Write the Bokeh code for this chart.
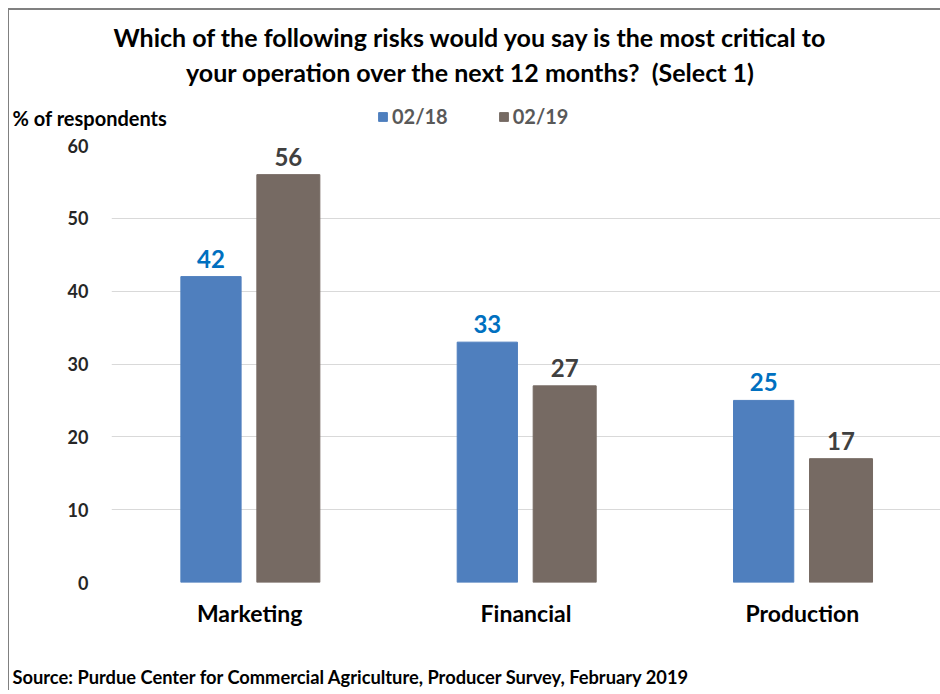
from bokeh.plotting import figure
from bokeh.layouts import column
from bokeh.models import (ColumnDataSource, Range1d, FactorRange, LabelSet, Label,
                          Legend, LegendItem)
from bokeh.core.properties import value
from bokeh.transform import dodge
from bokeh.embed import file_html
from bokeh.resources import INLINE

# ---- data ----
categories = ["Marketing", "Financial", "Production"]
series_names = ["02/18", "02/19"]
values_0218 = [42, 33, 25]
values_0219 = [56, 27, 17]
y_ticks = [0, 10, 20, 30, 40, 50, 60]

title_lines = ["Which of the following risks would you say is the most critical to",
               "your operation over the next 12 months?\u00a0 (Select 1)"]
y_label = "% of respondents"
source_note = "Source: Purdue Center for Commercial Agriculture, Producer Survey, February 2019"

FONT = "Lato"
BLUE = "#4F7FBE"
BROWN = "#766A63"
FRAME_GREY = "#808080"

W = 940
HEAD_H, MAIN_H, FOOT_H = 135, 505, 50
FRAME_TOP, FRAME_BOTTOM, FRAME_LEFT = 145, 582, 111  # page coordinates

# thin grey chart border (left and top edges), painted as CSS background
V_LINE = (f"linear-gradient(90deg, transparent 7.5px, {FRAME_GREY} 7.5px, "
          f"{FRAME_GREY} 9px, transparent 9px)")
H_LINE = (f"linear-gradient(180deg, transparent 8.5px, {FRAME_GREY} 8.5px, "
          f"{FRAME_GREY} 10px, transparent 10px)")

src = ColumnDataSource(dict(
    cat=categories,
    a=values_0218,
    b=values_0219,
    a_lbl=[str(v) for v in values_0218],
    b_lbl=[str(v) for v in values_0219],
))


def blank(height, x_range=None):
    f = figure(width=W, height=height, output_backend="svg", toolbar_location=None,
               x_range=x_range if x_range is not None else Range1d(0, 1),
               y_range=Range1d(0, 1), x_axis_type=None, y_axis_type=None,
               min_border=0, min_border_left=0, min_border_right=0,
               min_border_top=0, min_border_bottom=0)
    f.outline_line_color = None
    f.xgrid.grid_line_color = None
    f.ygrid.grid_line_color = None
    f.border_fill_alpha = 0
    f.background_fill_alpha = 0
    if "frame_align" in f.properties():
        f.frame_align = False
    return f


# ---------------- header: title, y label, legend ----------------
head = blank(HEAD_H, FactorRange(*categories))
head.styles = {"background": f"{H_LINE} 7.5px 0 / calc(100% - 7.5px) 100% no-repeat, "
                             f"{V_LINE} 0 8.5px / 100% calc(100% - 8.5px) no-repeat, #ffffff"}
for (t, py) in zip(title_lines, [36, 71]):
    head.add_layout(Label(x=470, y=HEAD_H - py, x_units="screen", y_units="screen",
                          text=t, text_align="center", text_baseline="middle",
                          text_font=FONT, text_font_style="bold", text_font_size="25px",
                          text_color="#000000"))
head.add_layout(Label(x=12, y=HEAD_H - 117, x_units="screen", y_units="screen",
                      text=y_label, text_align="left", text_baseline="middle",
                      text_font=FONT, text_font_style="bold", text_font_size="20px",
                      text_color="#000000"))
h1 = head.vbar(x="cat", top="a", width=0.2, source=src, color=BLUE, visible=False)
h2 = head.vbar(x="cat", top="b", width=0.2, source=src, color=BROWN, visible=False)
legend = Legend(items=[LegendItem(label=series_names[0], renderers=[h1]),
                       LegendItem(label=series_names[1], renderers=[h2])],
                orientation="horizontal", location=(377, HEAD_H - 128),
                label_text_font=FONT, label_text_font_size="20px",
                label_text_font_style="bold",
                label_text_color="#595959", glyph_width=11, glyph_height=11,
                spacing=50, label_standoff=4, padding=0, margin=0,
                border_line_color=None, background_fill_alpha=0)
head.add_layout(legend, "center")

# ---------------- main chart ----------------
p = figure(width=W, height=MAIN_H, output_backend="svg", toolbar_location=None,
           x_range=FactorRange(*categories), y_range=Range1d(0, 60),
           min_border_left=FRAME_LEFT, min_border_right=0,
           min_border_top=FRAME_TOP - HEAD_H,
           min_border_bottom=HEAD_H + MAIN_H - FRAME_BOTTOM)
p.border_fill_alpha = 0
p.styles = {"background": f"{V_LINE}, #ffffff"}

p.vbar(x=dodge("cat", -0.14, range=p.x_range), top="a", width=0.218,
       source=src, color=BLUE)
p.vbar(x=dodge("cat", 0.14, range=p.x_range), top="b", width=0.228,
       source=src, color=BROWN)

p.add_layout(LabelSet(x=dodge("cat", -0.14, range=p.x_range), y="a", text="a_lbl",
                      source=src, text_align="center", text_baseline="bottom",
                      y_offset=9, text_font=value(FONT), text_font_style="bold",
                      text_font_size="24px", text_color="#0070C0"))
p.add_layout(LabelSet(x=dodge("cat", 0.14, range=p.x_range), y="b", text="b_lbl",
                      source=src, text_align="center", text_baseline="bottom",
                      y_offset=9, text_font=value(FONT), text_font_style="bold",
                      text_font_size="24px", text_color="#404040"))

p.yaxis.ticker = y_ticks
p.yaxis.axis_line_color = None
p.yaxis.major_tick_line_color = None
p.yaxis.minor_tick_line_color = None
p.yaxis.major_label_text_font = FONT
p.yaxis.major_label_text_font_style = "bold"
p.yaxis.major_label_text_font_size = "18px"
p.yaxis.major_label_text_color = "#262626"
p.yaxis.major_label_standoff = 17

p.xaxis.axis_line_color = None
p.xaxis.major_tick_line_color = None
p.xaxis.minor_tick_line_color = None
p.xaxis.major_label_text_font = FONT
p.xaxis.major_label_text_font_style = "bold"
p.xaxis.major_label_text_font_size = "23px"
p.xaxis.major_label_text_color = "#000000"
p.xaxis.major_label_standoff = 10

p.xgrid.grid_line_color = None
p.ygrid.grid_line_color = "#D9D9D9"
p.ygrid.grid_line_width = 1
p.ygrid.ticker = y_ticks
p.outline_line_color = None

# ---------------- footer: source ----------------
foot = blank(FOOT_H)
foot.styles = {"background": f"{V_LINE}, #ffffff"}
foot.add_layout(Label(x=12, y=HEAD_H + MAIN_H + FOOT_H - 676, x_units="screen",
                      y_units="screen", text=source_note, text_align="left",
                      text_baseline="middle", text_font=FONT, text_font_style="bold",
                      text_font_size="18.3px", text_color="#000000"))

layout = column(head, p, foot, spacing=0)
open("out.html", "w").write(file_html(layout, INLINE))
